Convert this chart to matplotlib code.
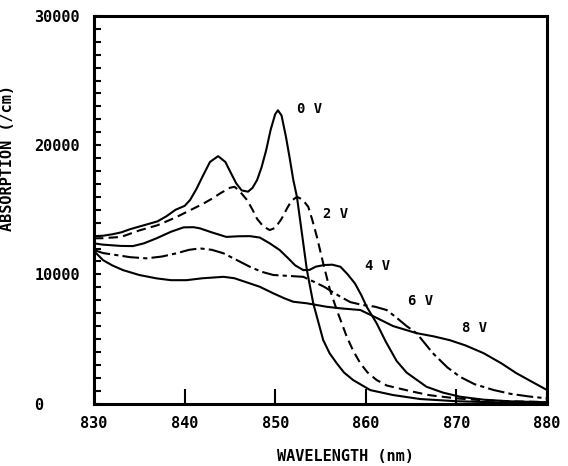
import matplotlib.pyplot as plt

plt.rcParams['font.family'] = 'DejaVu Sans Mono'
plt.rcParams['font.weight'] = 'bold'

# 0 V
wl_0 = [830, 831, 832, 833, 834, 835, 836, 837, 838, 839, 840, 840.6, 841.3, 842, 842.8,
        843.7, 844.5, 845, 845.7, 846.3, 847, 847.5, 848, 848.5, 849, 849.5, 850, 850.3,
        850.7, 851.2, 851.6, 852, 852.4, 852.9, 853.5, 854.2, 855.3, 856, 856.8, 857.6,
        858.6, 860.5, 863, 866, 870, 875, 880]
abs_0 = [12950, 12990, 13100, 13250, 13500, 13700, 13900, 14100, 14500, 15000, 15300, 15750,
         16600, 17600, 18700, 19150, 18700, 18000, 17040, 16500, 16400, 16700, 17300, 18300,
         19600, 21200, 22400, 22700, 22300, 20600, 19000, 17300, 16000, 13430, 10330, 7760,
         4910, 3900, 3110, 2400, 1820, 1040, 660, 350, 180, 80, 50]

# 2 V
wl_2 = [830, 831, 832, 833, 834, 835, 836, 837, 838, 839, 840, 841, 842, 843, 844, 845,
        845.5, 846, 846.9, 847.5, 848, 848.7, 849.4, 850, 850.7, 851.3, 851.8, 852.4, 853,
        853.65, 854.1, 854.6, 855.3, 856.05, 856.8, 857.9, 858.6, 859.4, 860.2, 861.2, 862.3,
        863.6, 865, 867, 870, 873, 876, 880]
abs_2 = [12790, 12800, 12850, 12900, 13150, 13400, 13600, 13800, 14100, 14400, 14750, 15100,
         15450, 15850, 16300, 16700, 16780, 16500, 15750, 15000, 14300, 13700, 13430, 13600,
         14300, 15100, 15700, 16000, 15800, 15230, 14200, 12910, 10850, 8780, 7240, 5170,
         4100, 3110, 2400, 1820, 1400, 1180, 950, 650, 400, 250, 170, 120]

# 4 V
wl_4 = [830, 831, 832, 833, 834.3, 835.5, 836.9, 838.5, 839.9, 841, 841.7, 843, 844.6, 846,
        847.2, 848.3, 849.4, 850.5, 851.5, 852.2, 853.1, 853.8, 854.5, 855.4, 856.3, 857.2,
        858, 858.8, 859.5, 860.1, 861.2, 862.2, 863.4, 864.5, 866.7, 868.5, 870.4, 873, 876, 880]
abs_4 = [12400, 12300, 12250, 12200, 12190, 12400, 12790, 13300, 13640, 13650, 13560, 13250,
         12900, 12950, 12960, 12850, 12400, 11880, 11200, 10700, 10330, 10350, 10600, 10720,
         10750, 10590, 10000, 9300, 8400, 7490, 6210, 4800, 3300, 2400, 1300, 850, 530, 300,
         170, 100]

# 6 V
wl_6 = [830, 831, 832.5, 834, 835.8, 837.5, 839.1, 840.5, 841.7, 843, 844.3, 845.5, 847.2,
        848.5, 849.8, 851.5, 853.1, 854.2, 855.4, 856.3, 857.2, 858.3, 859.7, 861, 862.3,
        863.3, 864.5, 865.6, 867.4, 869, 870.4, 872, 874.1, 876, 878, 880]
abs_6 = [11880, 11650, 11490, 11330, 11240, 11380, 11630, 11900, 12010, 11900, 11630, 11200,
         10590, 10200, 9950, 9880, 9810, 9450, 9040, 8650, 8270, 7850, 7620, 7500, 7240, 6700,
         6000, 5450, 3900, 2800, 2070, 1500, 1050, 750, 550, 400]

# 8 V
wl_8 = [830, 831, 832, 833.2, 835, 836.9, 838.5, 840.2, 842, 844.3, 845.5, 847.2, 848.3,
        849.8, 851, 852, 853.5, 855.7, 857.2, 859.4, 861, 863, 865.6, 867.5, 869.3, 871, 873,
        875, 876.6, 878.3, 880]
abs_8 = [11800, 11100, 10700, 10330, 9950, 9690, 9550, 9550, 9700, 9810, 9700, 9300, 9040,
         8530, 8150, 7880, 7760, 7490, 7370, 7240, 6700, 6000, 5450, 5200, 4900, 4500, 3900,
         3100, 2360, 1700, 1050]

labels = ['0 V', '2 V', '4 V', '6 V', '8 V']
label_x = [853.8, 856.7, 861.3, 866.0, 872.05]
label_y = [22800, 14650, 10640, 7930, 5840]

x_ticks = [830, 840, 850, 860, 870, 880]
y_ticks = [0, 10000, 20000, 30000]

fig = plt.figure(figsize=(5.68, 4.66), dpi=100)
ax = fig.add_axes([0.1655, 0.134, 0.7975, 0.8317])

lw = 1.5
ax.plot(wl_0, abs_0, color='black', lw=lw)
ax.plot(wl_2, abs_2, color='black', lw=lw, dashes=(4.5, 2.5))
ax.plot(wl_4, abs_4, color='black', lw=lw)
ax.plot(wl_6, abs_6, color='black', lw=lw, dashes=(8, 2, 2, 2))
ax.plot(wl_8, abs_8, color='black', lw=lw)

for t, x, y in zip(labels, label_x, label_y):
    ax.text(x, y, t, ha='center', va='center', fontsize=10, fontweight='bold')

ax.set_xlim(830, 880)
ax.set_ylim(0, 30000)
ax.set_xticks(x_ticks)
ax.set_xticklabels([str(v) for v in x_ticks], fontsize=11, fontweight='bold')
ax.set_yticks(y_ticks)
ax.set_yticklabels([str(v) for v in y_ticks], fontsize=11, fontweight='bold', ha='left')
ax.set_yticks(range(0, 30001, 1000), minor=True)

ax.tick_params(axis='x', direction='in', length=11, width=1.5, pad=9)
ax.tick_params(axis='y', which='major', direction='in', length=5, width=1.5, pad=43)
ax.tick_params(axis='y', which='minor', direction='in', length=5, width=1.5)
ax.tick_params(top=False, right=False)
for s in ax.spines.values():
    s.set_linewidth(2.2)

ax.set_xlabel('WAVELENGTH (nm)', fontsize=11, fontweight='bold')
ax.xaxis.set_label_coords(0.556, -0.117)
ax.set_ylabel('ABSORPTION (/cm)', fontsize=11, fontweight='bold')
ax.yaxis.set_label_coords(-0.174, 0.634)

fig.savefig('out.png', dpi=100)
